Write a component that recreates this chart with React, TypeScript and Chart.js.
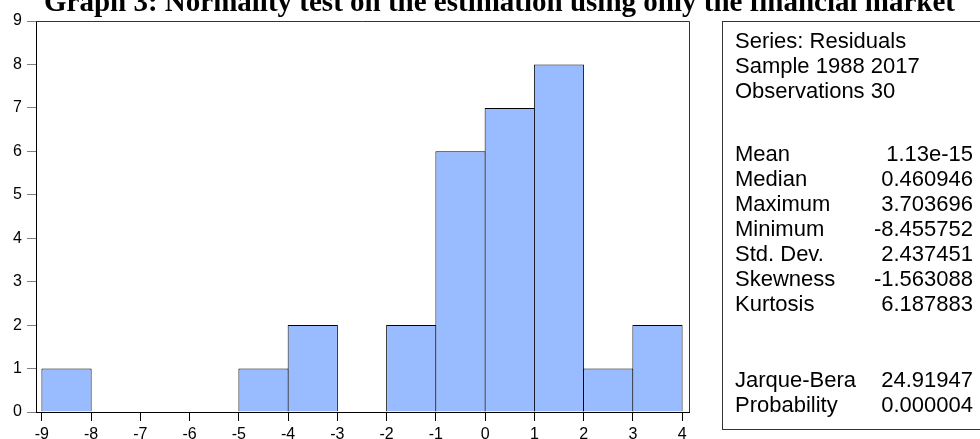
import React, { useEffect, useRef } from "react";
import { Chart, registerables } from "chart.js";

Chart.register(...registerables);

// ---- data ----
const binCenters = [-8.5, -7.5, -6.5, -5.5, -4.5, -3.5, -2.5, -1.5, -0.5, 0.5, 1.5, 2.5, 3.5];
const binCounts = [1, 0, 0, 0, 1, 2, 0, 2, 6, 7, 8, 1, 2];
const xTickValues = [-9, -8, -7, -6, -5, -4, -3, -2, -1, 0, 1, 2, 3, 4];
const yTickValues = [0, 1, 2, 3, 4, 5, 6, 7, 8, 9];

const titleText = "Graph 3: Normality test on the estimation using only the financial market";
const statsHeader = ["Series: Residuals", "Sample 1988 2017", "Observations 30"];
const statsLabels = ["Mean", "Median", "Maximum", "Minimum", "Std. Dev.", "Skewness", "Kurtosis"];
const statsValues = ["1.13e-15", "0.460946", "3.703696", "-8.455752", "2.437451", "-1.563088", "6.187883"];
const testLabels = ["Jarque-Bera", "Probability"];
const testValues = ["24.91947", "0.000004"];

const SANS = "'Liberation Sans', Arial, Helvetica, sans-serif";
const SERIF = "'Liberation Serif', 'Times New Roman', serif";

const decorPlugin = {
  id: "decor",
  afterDraw(chart: any) {
    const { ctx, chartArea } = chart;
    const { left, right, top, bottom } = chartArea;
    ctx.save();
    // frame top and right
    ctx.strokeStyle = "#333";
    ctx.lineWidth = 1;
    ctx.beginPath();
    ctx.moveTo(left, Math.round(top) + 0.5);
    ctx.lineTo(Math.round(right) + 0.5, Math.round(top) + 0.5);
    ctx.lineTo(Math.round(right) + 0.5, bottom);
    ctx.stroke();

    // title
    ctx.fillStyle = "#000";
    ctx.font = `bold 29px ${SERIF}`;
    ctx.textAlign = "center";
    ctx.textBaseline = "alphabetic";
    ctx.fillText(titleText, 499.5, 11);

    // stats box
    ctx.strokeStyle = "#333";
    ctx.strokeRect(722.5, 21.5, 320, 408);

    ctx.font = `22px ${SANS}`;
    ctx.textAlign = "left";
    const lx = 735;
    const rx = 973;
    statsHeader.forEach((t, i) => {
      ctx.fillText(t, lx, 48 + i * 25);
    });
    statsLabels.forEach((t, i) => {
      ctx.textAlign = "left";
      ctx.fillText(t, lx, 161 + i * 25);
      ctx.textAlign = "right";
      ctx.fillText(statsValues[i], rx, 161 + i * 25);
    });
    testLabels.forEach((t, i) => {
      ctx.textAlign = "left";
      ctx.fillText(t, lx, 387 + i * 25);
      ctx.textAlign = "right";
      ctx.fillText(testValues[i], rx, 387 + i * 25);
    });
    ctx.restore();
  },
};

export default function App() {
  const canvasRef = useRef<HTMLCanvasElement | null>(null);

  useEffect(() => {
    const canvas = canvasRef.current;
    if (!canvas) return;
    const chart = new Chart(canvas, {
      type: "bar",
      data: {
        datasets: [
          {
            data: binCenters.map((c, i) => ({ x: c, y: binCounts[i] })),
            backgroundColor: "#99BBFF",
            borderColor: "#000",
            borderWidth: 1,
            borderSkipped: "bottom",
            barPercentage: 1.02,
            categoryPercentage: 1,
          },
        ],
      },
      options: {
        responsive: false,
        animation: false,
        devicePixelRatio: 1,
        layout: { padding: { top: 21, right: 291, left: 0, bottom: 0 } },
        plugins: {
          legend: { display: false },
          tooltip: { enabled: false },
          title: { display: false },
        },
        scales: {
          x: {
            type: "linear",
            min: -9.12,
            max: 4.14,
            offset: false,
            afterBuildTicks: (s: any) => {
              s.ticks = xTickValues.map((v) => ({ value: v }));
            },
            afterFit: (s: any) => {
              s.height = 27;
            },
            grid: {
              offset: false,
              drawOnChartArea: false,
              drawTicks: true,
              tickLength: 9,
              color: "#000",
            },
            border: { display: true, color: "#000", width: 1 },
            ticks: {
              color: "#000",
              font: { family: SANS, size: 16 },
              padding: 4,
              autoSkip: false,
              maxRotation: 0,
              callback: (v: any) => String(v),
            },
          },
          y: {
            min: 0,
            max: 9,
            afterBuildTicks: (s: any) => {
              s.ticks = yTickValues.map((v) => ({ value: v }));
            },
            afterFit: (s: any) => {
              s.width = 36;
            },
            grid: {
              drawOnChartArea: false,
              drawTicks: true,
              tickLength: 9,
              color: "#808080",
            },
            border: { display: true, color: "#000", width: 1 },
            ticks: {
              color: "#000",
              font: { family: SANS, size: 16 },
              padding: 5,
              callback: (v: any) => String(v),
            },
          },
        },
      },
      plugins: [decorPlugin],
    } as any);
    return () => chart.destroy();
  }, []);

  return (
    <div style={{ position: "absolute", left: 0, top: 0, width: 980, height: 439, background: "#fff" }}>
      <canvas ref={canvasRef} width={980} height={439} style={{ display: "block" }} />
    </div>
  );
}
